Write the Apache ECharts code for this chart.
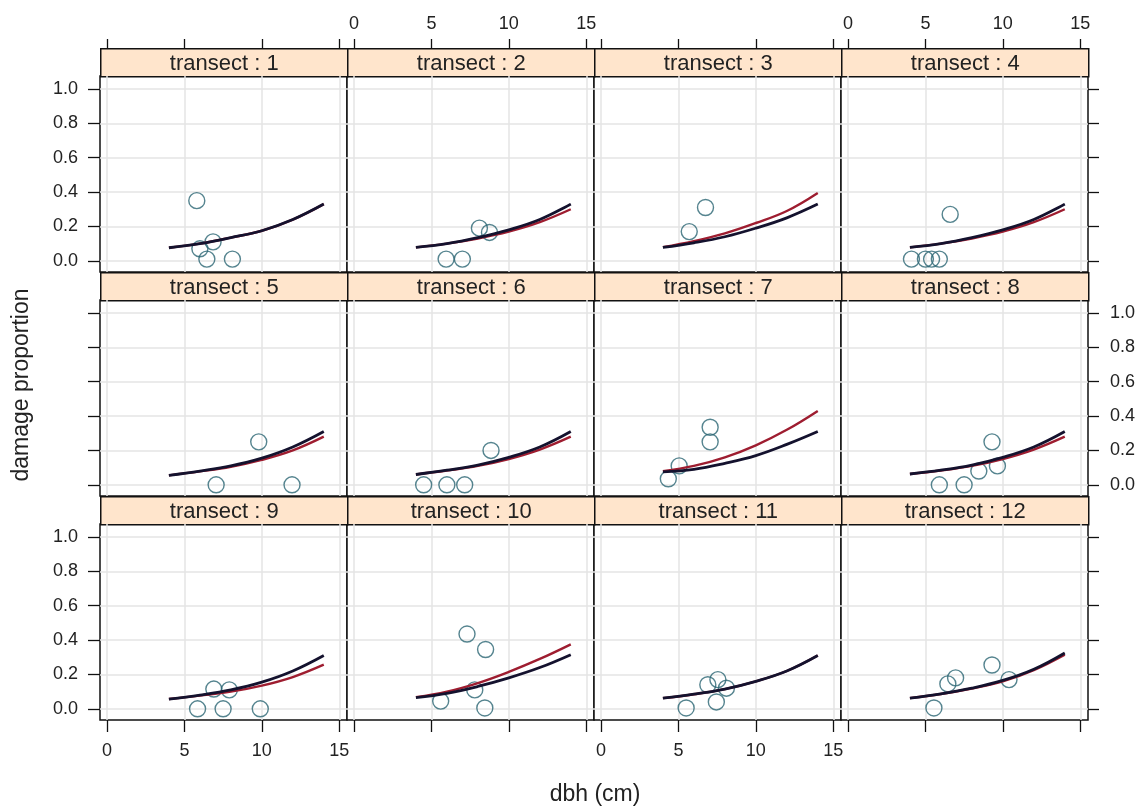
<!DOCTYPE html>
<html>
<head>
<meta charset="utf-8">
<title>damage proportion by transect</title>
<script src="https://cdn.jsdelivr.net/npm/echarts@6/dist/echarts.min.js"></script>
<style>
  html, body { margin: 0; padding: 0; background: #fff; }
  #chart { width: 1142px; height: 806px; }
</style>
</head>
<body>
<div id="chart"></div>
<script>
// panel labels
const transects = [1, 2, 3, 4, 5, 6, 7, 8, 9, 10, 11, 12];

// observed points per transect (dbh in cm, damage proportion)
const obsDbh = [
  [5.8, 6.0, 6.85, 6.45, 8.1],
  [5.95, 7.0, 8.1, 8.75],
  [5.7, 6.75],
  [4.1, 5.0, 5.4, 5.9, 6.6],
  [7.05, 9.8, 11.95],
  [4.5, 6.0, 7.15, 8.85],
  [4.35, 5.05, 7.05, 7.05],
  [5.9, 7.5, 8.45, 9.3, 9.65],
  [5.85, 7.5, 9.9, 6.9, 7.9],
  [5.6, 7.3, 7.8, 8.45, 8.5],
  [5.5, 6.9, 7.55, 8.1, 7.45],
  [5.55, 6.45, 6.95, 9.3, 10.4]
];
const obsDamage = [
  [0.35, 0.07, 0.11, 0.01, 0.01],
  [0.01, 0.01, 0.19, 0.165],
  [0.17, 0.31],
  [0.01, 0.01, 0.01, 0.01, 0.27],
  [0.0, 0.25, 0.0],
  [0.0, 0.0, 0.0, 0.2],
  [0.035, 0.11, 0.25, 0.335],
  [0.0, 0.0, 0.08, 0.25, 0.11],
  [0.0, 0.0, 0.0, 0.115, 0.11],
  [0.045, 0.435, 0.11, 0.005, 0.345],
  [0.005, 0.14, 0.17, 0.12, 0.04],
  [0.005, 0.145, 0.18, 0.255, 0.17]
];

// fitted curves, read at these dbh values
const fitDbh = [4, 6, 8, 10, 12, 14];
const fitBlack = [
  [0.076, 0.10, 0.135, 0.175, 0.24, 0.33],
  [0.078, 0.10, 0.135, 0.18, 0.24, 0.33],
  [0.078, 0.105, 0.14, 0.19, 0.25, 0.33],
  [0.078, 0.10, 0.135, 0.18, 0.24, 0.33],
  [0.055, 0.08, 0.11, 0.155, 0.22, 0.31],
  [0.06, 0.085, 0.115, 0.16, 0.22, 0.31],
  [0.075, 0.09, 0.125, 0.17, 0.235, 0.31],
  [0.063, 0.085, 0.115, 0.16, 0.22, 0.31],
  [0.057, 0.08, 0.11, 0.155, 0.22, 0.31],
  [0.065, 0.09, 0.13, 0.18, 0.24, 0.315],
  [0.062, 0.085, 0.115, 0.16, 0.22, 0.31],
  [0.062, 0.087, 0.12, 0.165, 0.23, 0.325]
];
const fitRed = [
  [0.076, 0.10, 0.135, 0.175, 0.24, 0.33],
  [0.078, 0.10, 0.13, 0.17, 0.225, 0.30],
  [0.08, 0.115, 0.16, 0.22, 0.29, 0.395],
  [0.078, 0.10, 0.13, 0.17, 0.225, 0.30],
  [0.055, 0.078, 0.105, 0.145, 0.20, 0.28],
  [0.06, 0.083, 0.11, 0.15, 0.205, 0.28],
  [0.08, 0.11, 0.16, 0.23, 0.32, 0.43],
  [0.063, 0.083, 0.11, 0.15, 0.205, 0.28],
  [0.057, 0.077, 0.10, 0.135, 0.185, 0.257],
  [0.068, 0.10, 0.15, 0.215, 0.29, 0.375],
  [0.062, 0.085, 0.115, 0.16, 0.22, 0.31],
  [0.062, 0.086, 0.118, 0.16, 0.225, 0.315]
];

const xTicks = [0, 5, 10, 15];
const yTicks = [0, 0.2, 0.4, 0.6, 0.8, 1.0];
const xRange = [-0.45, 15.5];
const yRange = [-0.065, 1.075];

// layout (lattice style, 4 x 3)
const colLeft = [100, 347, 594, 841];
const colW = 247;
const rowTop = [48, 272, 496];
const stripH = 28;
const panelH = 196;

const FONT = "'Liberation Sans', Arial, sans-serif";
const INK = '#111';
const gridCol = '#e4e4e4';
const tickLabel = { fontSize: 18, color: '#222', fontFamily: FONT };

const grids = [], xAxes = [], yAxes = [], series = [], graphics = [];

transects.forEach((t, p) => {
  const r = Math.floor(p / 4), c = p % 4;
  grids.push({
    left: colLeft[c], top: rowTop[r] + stripH, width: colW, height: panelH,
    show: true, borderColor: INK, borderWidth: 1.5, backgroundColor: '#fff'
  });

  // main axes of the panel (carry the grid lines)
  const xi = xAxes.length;
  xAxes.push({
    type: 'value', gridIndex: p, position: 'bottom', min: xRange[0], max: xRange[1],
    axisLine: { show: false, onZero: false },
    axisTick: { show: r === 2, length: 12, customValues: xTicks, lineStyle: { color: INK, width: 1.3 } },
    axisLabel: Object.assign({ show: r === 2 && c % 2 === 0, customValues: xTicks, margin: 22 }, tickLabel),
    splitLine: { show: true, lineStyle: { color: gridCol, width: 1.5 } }
  });
  const yi = yAxes.length;
  yAxes.push({
    type: 'value', gridIndex: p, position: 'left', min: yRange[0], max: yRange[1],
    axisLine: { show: false, onZero: false },
    axisTick: { show: c === 0, length: 12, customValues: yTicks, lineStyle: { color: INK, width: 1.3 } },
    axisLabel: Object.assign({ show: c === 0 && r !== 1, customValues: yTicks, margin: 22,
      formatter: v => v.toFixed(1) }, tickLabel),
    splitLine: { show: true, lineStyle: { color: gridCol, width: 1.5 } }
  });

  // extra top axis above the strip for the first row
  if (r === 0) {
    xAxes.push({
      type: 'value', gridIndex: p, position: 'top', offset: stripH, min: xRange[0], max: xRange[1],
      axisLine: { show: false, onZero: false },
      axisTick: { show: true, length: 9, customValues: xTicks, lineStyle: { color: INK, width: 1.3 } },
      axisLabel: Object.assign({ show: c % 2 === 1, customValues: xTicks, margin: 15 }, tickLabel),
      splitLine: { show: false }
    });
  }
  // extra right axis for the last column
  if (c === 3) {
    yAxes.push({
      type: 'value', gridIndex: p, position: 'right', min: yRange[0], max: yRange[1],
      axisLine: { show: false, onZero: false },
      axisTick: { show: true, length: 11, customValues: yTicks, lineStyle: { color: INK, width: 1.3 } },
      axisLabel: Object.assign({ show: r === 1, customValues: yTicks, margin: 22,
        formatter: v => v.toFixed(1) }, tickLabel),
      splitLine: { show: false }
    });
  }

  series.push({
    type: 'scatter', xAxisIndex: xi, yAxisIndex: yi,
    data: obsDbh[p].map((d, k) => [d, obsDamage[p][k]]),
    symbol: 'circle', symbolSize: 16,
    itemStyle: { color: 'rgba(0,0,0,0)', borderColor: '#2a6573', borderWidth: 1.4 },
    emphasis: { disabled: true }, silent: true
  });
  series.push({
    type: 'line', xAxisIndex: xi, yAxisIndex: yi, smooth: 0.4, showSymbol: false,
    data: fitDbh.map((d, k) => [d, fitRed[p][k]]),
    lineStyle: { color: '#9e1d30', width: 2.4 }, silent: true, z: 3
  });
  series.push({
    type: 'line', xAxisIndex: xi, yAxisIndex: yi, smooth: 0.4, showSymbol: false,
    data: fitDbh.map((d, k) => [d, fitBlack[p][k]]),
    lineStyle: { color: '#14122e', width: 2.8 }, silent: true, z: 4
  });

  // strip with the transect label
  graphics.push({
    type: 'group', left: colLeft[c], top: rowTop[r],
    children: [
      { type: 'rect', shape: { x: 0, y: 0, width: colW, height: stripH },
        style: { fill: '#ffe5cc', stroke: INK, lineWidth: 1.5 } },
      { type: 'text', x: colW / 2, y: stripH / 2 + 1,
        style: { text: 'transect : ' + t, font: '22px ' + FONT, fill: '#222',
          textAlign: 'center', textVerticalAlign: 'middle' } }
    ]
  });
});

graphics.push({
  type: 'text', x: 22, y: 385, rotation: Math.PI / 2,
  style: { text: 'damage proportion', font: '23px ' + FONT, fill: '#222',
    textAlign: 'center', textVerticalAlign: 'middle' }
});
graphics.push({
  type: 'text', x: 595, y: 795,
  style: { text: 'dbh (cm)', font: '23px ' + FONT, fill: '#222',
    textAlign: 'center', textVerticalAlign: 'middle' }
});

const chart = echarts.init(document.getElementById('chart'));
chart.setOption({
  animation: false,
  backgroundColor: '#fff',
  grid: grids,
  xAxis: xAxes,
  yAxis: yAxes,
  series: series,
  graphic: graphics
});
</script>
</body>
</html>
